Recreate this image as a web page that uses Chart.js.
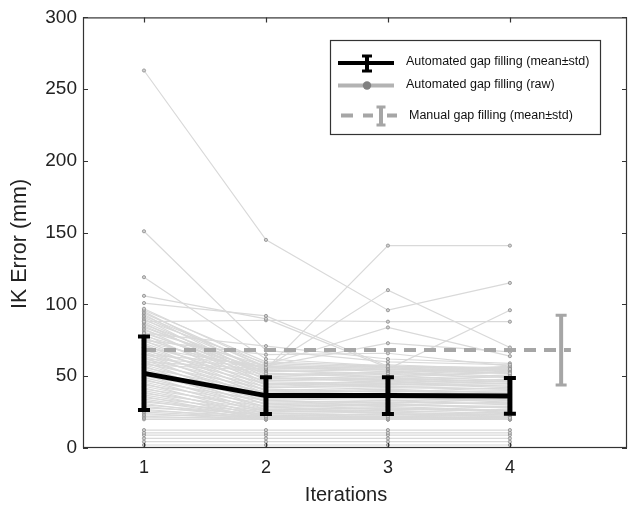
<!DOCTYPE html>
<html>
<head>
<meta charset="utf-8">
<script src="https://cdn.jsdelivr.net/npm/chart.js@4"></script>
<style>
  html, body { margin: 0; padding: 0; background: #fff; }
  #wrap { width: 628px; height: 506px; }
</style>
</head>
<body>
<div id="wrap"><canvas id="chart" width="628" height="506"></canvas></div>
<script>
/* DATA */
const iterations = [1, 2, 3, 4];
const xTicks = [1, 2, 3, 4];

// automated gap filling, mean and std per iteration
const autoMean = [52, 36.5, 36.5, 36.3];
const autoStd = [25.6, 12.8, 12.8, 12.5];

// manual gap filling (one value, drawn as dashed reference)
const manualMean = 68.2;
const manualStd = 24.3;
const manualSpan = [1, 4.5];
const manualBarX = 4.42;

// raw subjects, [iter1, iter2, iter3, iter4]
const rawOutliers = [
  [263, 145, 96, 115],
  [151, 68, 60, 58],
  [119, 62, 57, 55],
  [106, 90, 56, 52],
  [101, 92, 57, 54],
  [88, 89, 88, 88],
  [70, 56, 110, 70],
  [60, 55, 141, 141],
  [65, 58, 84, 64],
  [62, 57, 73, 67],
  [58, 54, 55, 96],
  [80, 71, 62, 59],
  [75, 65, 66, 57]
];

const rawBand = [
  [97, 58, 55, 54], [96, 60, 57, 56], [95, 52, 50, 53], [94, 56, 58, 55],
  [93, 49, 47, 50], [92, 57, 54, 52], [91, 54, 52, 57], [90, 47, 49, 46],
  [89, 59, 56, 55], [88, 51, 53, 50], [87, 45, 44, 47], [86, 55, 57, 54],
  [85, 50, 48, 51], [84, 53, 55, 52], [83, 44, 46, 43], [82, 57, 53, 56],
  [81, 48, 50, 47], [80, 52, 49, 53], [79, 42, 44, 45], [78, 55, 56, 53],
  [77, 46, 45, 48], [76, 50, 52, 49], [75, 40, 42, 41], [74, 54, 51, 55],
  [73, 44, 47, 45], [72, 38, 40, 39], [71, 49, 46, 50], [70, 42, 43, 41],
  [69, 36, 38, 37], [68, 47, 48, 46], [67, 40, 39, 42], [66, 34, 36, 35],
  [65, 45, 43, 44], [64, 38, 40, 37], [63, 32, 33, 34], [62, 43, 45, 42],
  [61, 36, 35, 38], [60, 30, 32, 31], [59, 41, 39, 40], [58, 34, 36, 33],
  [57, 28, 30, 29], [56, 39, 41, 38], [55, 33, 31, 34], [54, 27, 28, 26],
  [53, 37, 36, 39], [52, 31, 33, 30], [51, 25, 27, 26], [50, 35, 34, 36],
  [49, 29, 30, 28], [48, 24, 25, 23], [47, 33, 35, 32], [46, 27, 26, 29],
  [45, 22, 24, 23], [44, 31, 30, 32], [43, 26, 28, 25], [42, 21, 22, 21],
  [41, 29, 31, 28], [40, 24, 23, 25], [39, 20, 21, 20], [38, 27, 29, 26],
  [37, 23, 22, 24], [36, 20, 20, 21], [35, 26, 25, 27], [34, 22, 24, 22],
  [33, 21, 20, 22], [32, 25, 26, 24], [31, 20, 21, 20], [30, 23, 22, 23],
  [29, 21, 22, 21], [28, 24, 23, 25], [27, 20, 20, 20], [26, 22, 21, 22],
  [25, 21, 22, 20], [24, 20, 21, 21], [23, 22, 20, 22], [22, 20, 20, 20],
  [21, 21, 21, 20], [20, 20, 20, 20]
];

const rawLow = [
  [12.5, 12.5, 12.5, 12.5],
  [10.6, 10.6, 10.6, 10.6],
  [9, 9, 9, 9],
  [6.7, 6.7, 6.7, 6.7],
  [4.4, 4.4, 4.4, 4.4],
  [2.1, 2.1, 2.1, 2.1]
];

/* STYLE */
const FONT = "'Liberation Sans', Arial, sans-serif";
const RAW_LINE = "#d9d9d9";
const RAW_POINT = "#8c8c8c";
const MANUAL_GRAY = "#a6a6a6";

/* DATASETS */
const rawRows = rawOutliers.concat(rawBand, rawLow);
const rawSets = rawRows.map(row => ({
  data: row.map((v, i) => ({ x: iterations[i], y: v })),
  borderColor: RAW_LINE,
  borderWidth: 1.2,
  pointRadius: 1.6,
  pointBorderWidth: 0.8,
  pointBorderColor: RAW_POINT,
  pointBackgroundColor: "#d0d0d0",
  order: 10
}));

const manualSet = {
  data: manualSpan.map(x => ({ x, y: manualMean })),
  borderColor: MANUAL_GRAY,
  borderWidth: 4,
  borderDash: [12, 8],
  pointRadius: 0,
  order: 5
};

const meanSet = {
  data: autoMean.map((v, i) => ({ x: iterations[i], y: v })),
  borderColor: "#000",
  borderWidth: 5,
  pointRadius: 0,
  order: 1
};

/* ERROR BARS, FRAME, LEGEND */
function errorBar(ctx, xp, yTop, yBot, color, w, capW, capT) {
  ctx.save();
  ctx.strokeStyle = color;
  ctx.lineWidth = w;
  ctx.beginPath();
  ctx.moveTo(xp, yTop);
  ctx.lineTo(xp, yBot);
  ctx.stroke();
  ctx.lineWidth = capT;
  ctx.beginPath();
  ctx.moveTo(xp - capW / 2, yTop);
  ctx.lineTo(xp + capW / 2, yTop);
  ctx.moveTo(xp - capW / 2, yBot);
  ctx.lineTo(xp + capW / 2, yBot);
  ctx.stroke();
  ctx.restore();
}

const extras = {
  id: "extras",
  afterDatasetsDraw(chart) {
    const ctx = chart.ctx;
    const xs = chart.scales.x, ys = chart.scales.y;
    const a = chart.chartArea;

    // manual error bar
    errorBar(ctx, xs.getPixelForValue(manualBarX),
      ys.getPixelForValue(manualMean + manualStd),
      ys.getPixelForValue(manualMean - manualStd),
      MANUAL_GRAY, 4, 11, 3);

    // automated error bars
    autoMean.forEach((m, i) => {
      errorBar(ctx, xs.getPixelForValue(iterations[i]),
        ys.getPixelForValue(m + autoStd[i]),
        ys.getPixelForValue(m - autoStd[i]),
        "#000", 5, 12, 4);
    });

    // frame
    ctx.save();
    ctx.strokeStyle = "#333";
    ctx.lineWidth = 1.2;
    ctx.strokeRect(a.left + 0.5, a.top + 0.5, a.right - a.left - 1, a.bottom - a.top - 1);

    // inward ticks
    const t = 5;
    ctx.beginPath();
    xTicks.forEach(v => {
      const p = Math.round(xs.getPixelForValue(v)) + 0.5;
      ctx.moveTo(p, a.top); ctx.lineTo(p, a.top + t);
      ctx.moveTo(p, a.bottom); ctx.lineTo(p, a.bottom - t);
    });
    ys.ticks.forEach(tk => {
      const p = Math.round(ys.getPixelForValue(tk.value)) + 0.5;
      ctx.moveTo(a.left, p); ctx.lineTo(a.left + t, p);
      ctx.moveTo(a.right, p); ctx.lineTo(a.right - t, p);
    });
    ctx.stroke();
    ctx.restore();

    // axis titles
    ctx.save();
    ctx.fillStyle = "#222";
    ctx.textAlign = "center";
    ctx.textBaseline = "middle";
    ctx.font = "20px " + FONT;
    ctx.fillText("Iterations", 346, 495);
    ctx.font = "21.5px " + FONT;
    ctx.translate(20, 244);
    ctx.rotate(-Math.PI / 2);
    ctx.fillText("IK Error (mm)", 0, 0);
    ctx.restore();

    // legend
    ctx.save();
    ctx.fillStyle = "#fff";
    ctx.fillRect(331, 41, 269, 93);
    ctx.strokeStyle = "#333";
    ctx.lineWidth = 1.2;
    ctx.strokeRect(330.5, 40.5, 270, 94);

    // row 1
    ctx.strokeStyle = "#000";
    ctx.lineWidth = 4;
    ctx.beginPath(); ctx.moveTo(338, 63); ctx.lineTo(394, 63); ctx.stroke();
    errorBar(ctx, 367, 56, 71, "#000", 4, 10, 3);

    // row 2
    ctx.strokeStyle = "#b3b3b3";
    ctx.lineWidth = 4;
    ctx.beginPath(); ctx.moveTo(338, 85.5); ctx.lineTo(394, 85.5); ctx.stroke();
    ctx.fillStyle = "#808080";
    ctx.beginPath(); ctx.arc(367, 85.5, 4.2, 0, Math.PI * 2); ctx.fill();

    // row 3
    ctx.strokeStyle = MANUAL_GRAY;
    ctx.lineWidth = 4;
    ctx.beginPath();
    [[341, 353], [363, 373], [387, 397]].forEach(s => {
      ctx.moveTo(s[0], 115.5); ctx.lineTo(s[1], 115.5);
    });
    ctx.stroke();
    errorBar(ctx, 381, 107, 125, MANUAL_GRAY, 4, 9, 3);

    ctx.fillStyle = "#111";
    ctx.font = "12.5px " + FONT;
    ctx.textBaseline = "middle";
    ctx.fillText("Automated gap filling (mean\u00b1std)", 406, 61.5);
    ctx.fillText("Automated gap filling (raw)", 406, 84.5);
    ctx.fillText("Manual gap filling (mean\u00b1std)", 409, 115.5);
    ctx.restore();
  }
};

/* CHART */
new Chart(document.getElementById("chart"), {
  type: "line",
  data: { datasets: rawSets.concat([manualSet, meanSet]) },
  options: {
    responsive: false,
    animation: false,
    layout: { autoPadding: false, padding: { top: 17, right: 1, left: 1, bottom: 0 } },
    plugins: { legend: { display: false }, tooltip: { enabled: false } },
    scales: {
      x: {
        type: "linear",
        min: 0.5,
        max: 4.96,
        grid: { display: false, drawTicks: false },
        border: { display: false },
        afterBuildTicks: s => { s.ticks = xTicks.map(v => ({ value: v })); },
        ticks: { color: "#222", font: { family: FONT, size: 18 }, padding: 9 },
        afterFit: s => { s.height = 58; }
      },
      y: {
        min: 0,
        max: 300,
        grid: { display: false, drawTicks: false },
        border: { display: false },
        ticks: { stepSize: 50, color: "#222", font: { family: FONT, size: 19 }, padding: 6 },
        afterFit: s => { s.width = 82; }
      }
    }
  },
  plugins: [extras]
});
</script>
</body>
</html>
